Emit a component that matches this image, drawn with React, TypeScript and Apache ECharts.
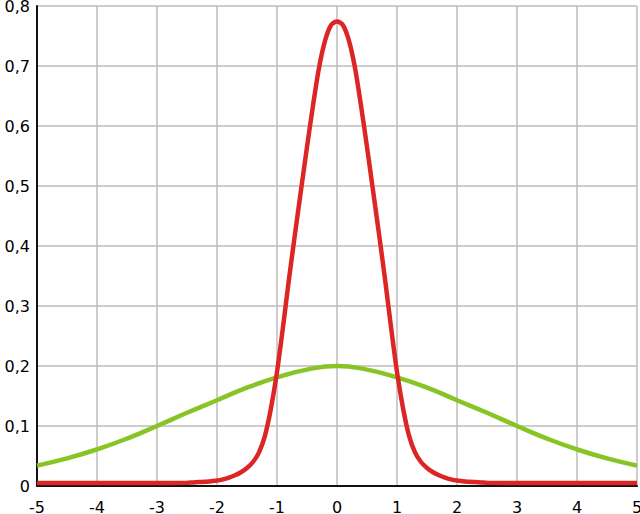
import { useEffect, useRef } from 'react';
import * as echarts from 'echarts';

// narrow curve (red)
const redX = [
  -5, -4.5, -4, -3.5, -3, -2.5, -2.4, -2.3, -2.2, -2.1, -2, -1.9, -1.8, -1.7, -1.6, -1.5, -1.4, -1.3,
  -1.2, -1.1, -1, -0.9, -0.8, -0.7, -0.6, -0.5, -0.4, -0.3, -0.2, -0.1, 0, 0.1, 0.2, 0.3, 0.4, 0.5,
  0.6, 0.7, 0.8, 0.9, 1, 1.1, 1.2, 1.3, 1.4, 1.5, 1.6, 1.7, 1.8, 1.9, 2, 2.1, 2.2, 2.3, 2.4, 2.5, 3,
  3.5, 4, 4.5, 5,
];
const redY = [
  0.005, 0.005, 0.005, 0.005, 0.005, 0.0055, 0.006, 0.0065, 0.007, 0.008, 0.009, 0.011, 0.014,
  0.018, 0.023, 0.03, 0.04, 0.056, 0.084, 0.13, 0.19, 0.265, 0.345, 0.42, 0.493, 0.565, 0.634, 0.697,
  0.742, 0.768, 0.774, 0.768, 0.742, 0.697, 0.634, 0.565, 0.493, 0.42, 0.345, 0.265, 0.19, 0.13,
  0.084, 0.056, 0.04, 0.03, 0.023, 0.018, 0.014, 0.011, 0.009, 0.008, 0.007, 0.0065, 0.006, 0.0055,
  0.005, 0.005, 0.005, 0.005, 0.005,
];

// wide curve (green)
const greenX = [-5, -4.5, -4, -3.5, -3, -2.5, -2, -1.5, -1, -0.5, 0, 0.5, 1, 1.5, 2, 2.5, 3, 3.5, 4, 4.5, 5];
const greenY = [
  0.034, 0.046, 0.061, 0.079, 0.1, 0.122, 0.143, 0.164, 0.181, 0.194, 0.2, 0.194, 0.181, 0.164,
  0.143, 0.122, 0.1, 0.079, 0.061, 0.046, 0.034,
];

const xTicks = [-5, 5, 1];
const yTicks = [0, 0.8, 0.1];

const fmtY = (v: number) => (v === 0 ? '0' : v.toFixed(1).replace('.', ','));

export default function App() {
  const ref = useRef<HTMLDivElement>(null);

  useEffect(() => {
    document.body.style.margin = '0';
    if (!ref.current) return;
    const chart = echarts.init(ref.current, undefined, { renderer: 'svg' });

    const labelStyle = { color: '#000', fontSize: 16, fontFamily: 'DejaVu Sans' };

    chart.setOption({
      animation: false,
      backgroundColor: '#fff',
      grid: { left: 37, right: 3, top: 6, bottom: 28, outerBoundsMode: 'none', containLabel: false },
      xAxis: {
        type: 'value',
        min: xTicks[0],
        max: xTicks[1],
        interval: xTicks[2],
        axisLine: { show: true, onZero: false, lineStyle: { color: '#111', width: 2 } },
        axisTick: { show: false },
        axisLabel: { ...labelStyle, margin: 13, showMaxLabel: true, showMinLabel: true },
        splitLine: { show: true, lineStyle: { color: '#bdbdbd', width: 1.5 } },
      },
      yAxis: {
        type: 'value',
        min: yTicks[0],
        max: yTicks[1],
        interval: yTicks[2],
        axisLine: { show: true, onZero: false, lineStyle: { color: '#111', width: 2 } },
        axisTick: { show: false },
        axisLabel: { ...labelStyle, margin: 7, formatter: fmtY },
        splitLine: { show: true, lineStyle: { color: '#bdbdbd', width: 1.5 } },
      },
      series: [
        {
          type: 'line',
          data: greenX.map((x, i) => [x, greenY[i]]),
          smooth: true,
          showSymbol: false,
          lineStyle: { color: '#88c425', width: 4.5 },
          z: 3,
        },
        {
          type: 'line',
          data: redX.map((x, i) => [x, redY[i]]),
          smooth: 0.3,
          showSymbol: false,
          lineStyle: { color: '#dc2626', width: 4.5 },
          z: 4,
        },
      ],
    });

    return () => chart.dispose();
  }, []);

  return <div ref={ref} style={{ width: 640, height: 514 }} />;
}
